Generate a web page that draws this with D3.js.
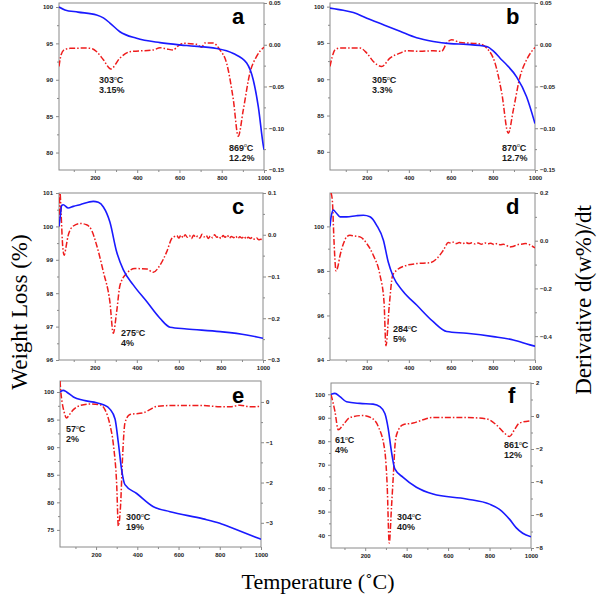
<!DOCTYPE html>
<html><head><meta charset="utf-8">
<script src="https://cdn.jsdelivr.net/npm/d3@7"></script>
<style>body{margin:0;background:#fff}svg{display:block}</style>
</head><body>
<svg id="c" width="600" height="596"></svg>
<script>
// ---------- DATA ----------
const xTicks = [200, 400, 600, 800, 1000];
const xMinor = [100, 300, 500, 700, 900];

// TG (weight %) curves: [temperature, weight]
const tgA = [[30,100],[58,99.6],[120,99.3],[208,98.9],[240,98.5],[271,97.8],[318,96.6],[397,95.7],[508,95.1],[634,94.7],[776,94.3],[855,93.6],[918,92.3],[949,90],[973,86.3],[997,80.9],[1000,80.4]];
const tgB = [[25,99.8],[88,99.5],[136,99.2],[200,98.4],[279,97.5],[358,96.6],[437,95.7],[516,95.2],[596,94.9],[675,94.8],[770,94.5],[805,93.8],[834,92.9],[865,92.0],[913,90.3],[960,87.6],[1000,83.9]];
const tgC = [[30,100.0],[36,100.3],[43,100.63],[50,100.65],[74,100.55],[98,100.6],[130,100.65],[193,100.75],[217,100.72],[241,100.58],[272,100.13],[304,99.24],[336,98.7],[383,98.25],[447,97.75],[510,97.25],[558,96.98],[637,96.93],[796,96.85],[922,96.75],[1000,96.65]];
const tgD = [[25,100.0],[30,100.4],[41,100.73],[55,100.6],[73,100.43],[104,100.43],[150,100.48],[184,100.5],[215,100.43],[247,100.05],[279,99.38],[302,98.4],[326,97.74],[374,97.07],[437,96.47],[516,95.72],[580,95.28],[675,95.2],[802,95.05],[897,94.9],[976,94.68],[1000,94.62]];
const tgE = [[25,100.0],[41,100.3],[57,100.0],[90,99.1],[138,98.5],[203,98.05],[235,97.7],[267,96.9],[292,95.1],[308,90.8],[324,85.9],[340,83.2],[397,81.6],[478,79.2],[559,78.3],[720,77.0],[800,76.2],[870,75.2],[1000,73.3]];
const tgF = [[35,100.0],[54,100.4],[78,99.0],[110,96.8],[174,96.1],[238,95.8],[271,94.7],[295,91.8],[311,85.4],[327,75.4],[343,68.2],[383,64.6],[447,60.4],[527,57.5],[688,55.4],[800,53.2],[848,51.0],[896,46.8],[928,43.2],[960,40.8],[1000,39.3]];

// DTG (derivative) curves: [temperature, derivative]
const dtgA = [[30,-0.026],[40,-0.012],[55,-0.006],[82,-0.0043],[161,-0.004],[190,-0.005],[208,-0.0083],[240,-0.018],[275,-0.029],[318,-0.016],[366,-0.0083],[407,-0.0075],[476,-0.0063],[508,-0.0036],[540,-0.005],[571,-0.0063],[590,-0.002],[618,0.0017],[681,0.0005],[705,-0.003],[720,0.002],[760,0.002],[791,-0.006],[823,-0.022],[855,-0.066],[878,-0.1095],[902,-0.078],[933,-0.034],[965,-0.014],[997,-0.0036],[1000,-0.003]];
const dtgB = [[25,-0.026],[35,-0.015],[49,-0.006],[72,-0.004],[168,-0.004],[200,-0.01],[231,-0.02],[271,-0.026],[310,-0.016],[358,-0.01],[390,-0.0072],[453,-0.0078],[516,-0.0072],[556,-0.0078],[580,0.002],[604,0.006],[643,0.0028],[738,0.001],[770,-0.004],[810,-0.022],[842,-0.058],[873,-0.106],[897,-0.078],[929,-0.038],[960,-0.018],[1000,-0.0032]];
const dtgC = [[30,0.02],[35,0.1],[40,0.05],[48,-0.03],[55,-0.049],[63,-0.03],[74,-0.001],[98,0.021],[130,0.027],[161,0.024],[185,0.011],[209,-0.025],[241,-0.089],[272,-0.161],[288,-0.236],[304,-0.185],[320,-0.121],[351,-0.093],[391,-0.081],[447,-0.082],[478,-0.090],[510,-0.073],[542,-0.041],[566,-0.009],[580,-0.004],
  [590,-0.002],[600,-0.008],[610,-0.001],[620,-0.007],[630,0.0],[640,-0.006],[650,-0.002],[660,-0.009],[670,-0.001],[680,-0.006],[690,-0.003],[700,-0.008],[710,0.001],[720,-0.005],[730,-0.002],[740,-0.009],[750,-0.003],[760,-0.007],[770,0.0],[780,-0.006],[790,-0.004],[800,-0.009],[810,-0.002],[820,-0.006],[830,-0.001],[840,-0.008],[850,-0.004],[860,-0.007],[870,-0.003],[880,-0.009],[890,-0.005],[900,-0.008],[910,-0.004],[920,-0.01],[930,-0.006],[940,-0.009],[950,-0.006],[960,-0.011],[970,-0.008],[980,-0.012],[990,-0.011],[1000,-0.013]];
const dtgD = [[30,0.2],[36,0.17],[44,0.0],[50,-0.1],[54,-0.127],[62,-0.11],[73,-0.061],[90,-0.01],[104,0.016],[120,0.023],[140,0.02],[168,0.016],[200,-0.012],[231,-0.061],[263,-0.145],[282,-0.257],[291,-0.44],[307,-0.27],[323,-0.145],[342,-0.124],[390,-0.103],[437,-0.096],[501,-0.092],[533,-0.075],[564,-0.04],[588,-0.008],
  [600,-0.01],[612,-0.006],[625,-0.012],[640,-0.008],[655,-0.013],[670,-0.007],[685,-0.012],[700,-0.009],[715,-0.014],[730,-0.01],[745,-0.015],[760,-0.009],[775,-0.013],[790,-0.011],[805,-0.016],[820,-0.012],[835,-0.017],[850,-0.015],[865,-0.02],[880,-0.026],[895,-0.024],[910,-0.019],[925,-0.015],[940,-0.014],[955,-0.012],[970,-0.015],[985,-0.022],[1000,-0.03]];
const dtgE = [[25,0.52],[30,0.2],[35,0.0],[45,-0.25],[57,-0.40],[70,-0.32],[90,-0.19],[122,-0.09],[170,-0.05],[219,-0.07],[243,-0.19],[267,-0.56],[284,-1.06],[300,-2.05],[308,-3.08],[319,-2.55],[329,-1.31],[340,-0.52],[364,-0.31],[429,-0.27],[461,-0.19],[494,-0.11],[559,-0.09],[720,-0.09],[801,-0.12],[850,-0.12],[898,-0.08],[946,-0.12],[1000,-0.11]];
const dtgF = [[35,1.3],[45,0.8],[54,0.28],[70,-0.84],[94,-0.53],[126,-0.09],[190,0.03],[231,-0.12],[263,-0.64],[295,-2.15],[306,-4.2],[316,-7.7],[327,-5.5],[335,-3.77],[345,-1.6],[355,-1.0],[383,-0.53],[431,-0.43],[479,-0.23],[527,-0.09],[688,-0.09],[784,-0.17],[832,-0.53],[872,-1.04],[896,-1.24],[920,-0.84],[944,-0.43],[1000,-0.29]];

// Tick labels
const leftTicksA = [80,85,90,95,100], rightTicksA = [0.05,0,-0.05,-0.10,-0.15];
const leftTicksB = [80,85,90,95,100], rightTicksB = [0.05,0,-0.05,-0.10,-0.15];
const leftTicksC = [96,97,98,99,100,101], rightTicksC = [0.1,0,-0.1,-0.2,-0.3];
const leftTicksD = [94,96,98,100], rightTicksD = [0.2,0,-0.2,-0.4];
const leftTicksE = [75,80,85,90,95,100], rightTicksE = [0,-1,-2,-3];
const leftTicksF = [40,50,60,70,80,90,100], rightTicksF = [2,0,-2,-4,-6,-8];

// Peak annotations
const peakTempsA = ["303","869"], peakLossA = ["3.15%","12.2%"];
const peakTempsB = ["305","870"], peakLossB = ["3.3%","12.7%"];
const peakTempsC = ["275"], peakLossC = ["4%"];
const peakTempsD = ["284"], peakLossD = ["5%"];
const peakTempsE = ["57","300"], peakLossE = ["2%","19%"];
const peakTempsF = ["61","304","861"], peakLossF = ["4%","40%","12%"];

const panelLetters = ["a","b","c","d","e","f"];
const xTitle = "Temperature (˚C)";
const yLeftTitle = "Weight Loss (%)";
const yRightTitle = "Derivative d(w%)/dt";

// ---------- LAYOUT ----------
const panels = [
  {tg:tgA, dtg:dtgA, L:59, R:264, T:3, B:170, xd:[30,1000], yl:[77.6,100.55], yr:[-0.15,0.05], lt:leftTicksA, rt:rightTicksA, rf:d3.format(".2f"),
   temps:peakTempsA, loss:peakLossA, pos:[[99,83],[229,150.5]], letter:[232,24]},
  {tg:tgB, dtg:dtgB, L:330, R:535, T:3, B:170, xd:[25,1000], yl:[77.5,100.5], yr:[-0.15,0.05], lt:leftTicksB, rt:rightTicksB, rf:d3.format(".2f"),
   temps:peakTempsB, loss:peakLossB, pos:[[372,83],[502,150.5]], letter:[506,24]},
  {tg:tgC, dtg:dtgC, L:59, R:263, T:193, B:360, xd:[30,1000], yl:[96,101], yr:[-0.3,0.1], lt:leftTicksC, rt:rightTicksC, rf:d3.format(".1f"),
   temps:peakTempsC, loss:peakLossC, pos:[[121,336]], letter:[232,214]},
  {tg:tgD, dtg:dtgD, L:330, R:535, T:193, B:360, xd:[25,1000], yl:[94,101.5], yr:[-0.5,0.2], lt:leftTicksD, rt:rightTicksD, rf:d3.format(".1f"),
   temps:peakTempsD, loss:peakLossD, pos:[[393,332]], letter:[506,214]},
  {tg:tgE, dtg:dtgE, L:60, R:261, T:381, B:547, xd:[25,1000], yl:[71.9,102], yr:[-3.6,0.52], lt:leftTicksE, rt:rightTicksE, rf:d3.format("d"),
   temps:peakTempsE, loss:peakLossE, pos:[[66,432],[126,520]], letter:[232,403]},
  {tg:tgF, dtg:dtgF, L:331, R:531, T:383, B:548, xd:[35,1000], yl:[34.5,104.8], yr:[-8,2], lt:leftTicksF, rt:rightTicksF, rf:d3.format("d"),
   temps:peakTempsF, loss:peakLossF, pos:[[335,443],[397,520],[504,448]], letter:[508,403]}
];

const svg = d3.select("#c");
const axisColor = "#8a8a8a";
const tickFont = "Liberation Sans, Arial, sans-serif";

function mid(arr){ const s=[...arr].sort((a,b)=>a-b); const out=[]; for(let i=0;i<s.length-1;i++) out.push((s[i]+s[i+1])/2); return out; }

panels.forEach((p,i)=>{
  const x = d3.scaleLinear().domain(p.xd).range([p.L,p.R]);
  const yl = d3.scaleLinear().domain(p.yl).range([p.B,p.T]);
  const yr = d3.scaleLinear().domain(p.yr).range([p.B,p.T]);
  const g = svg.append("g");
  const cid = "clip"+i;
  svg.append("clipPath").attr("id",cid).append("rect").attr("x",p.L).attr("y",p.T).attr("width",p.R-p.L).attr("height",p.B-p.T);

  g.append("rect").attr("x",p.L).attr("y",p.T).attr("width",p.R-p.L).attr("height",p.B-p.T)
    .attr("fill","none").attr("stroke",axisColor).attr("stroke-width",1);

  const styleAxis = sel => { sel.select(".domain").remove(); sel.selectAll("line").attr("stroke",axisColor);
     sel.selectAll("text").attr("font-family",tickFont).attr("font-size",6).attr("font-weight","bold").attr("fill","#222"); };
  g.append("g").attr("transform",`translate(0,${p.B})`)
    .call(d3.axisBottom(x).tickValues(xTicks).tickSize(3).tickPadding(3).tickFormat(d3.format("d"))).call(styleAxis);
  g.append("g").attr("transform",`translate(0,${p.B})`)
    .call(d3.axisBottom(x).tickValues(xMinor).tickSize(2).tickFormat("")).call(styleAxis);
  g.append("g").attr("transform",`translate(${p.L},0)`)
    .call(d3.axisLeft(yl).tickValues(p.lt).tickSize(3).tickPadding(3).tickFormat(d3.format("d"))).call(styleAxis);
  g.append("g").attr("transform",`translate(${p.L},0)`)
    .call(d3.axisLeft(yl).tickValues(mid(p.lt)).tickSize(2).tickFormat("")).call(styleAxis);
  g.append("g").attr("transform",`translate(${p.R},0)`)
    .call(d3.axisRight(yr).tickValues(p.rt).tickSize(3).tickPadding(2).tickFormat(p.rf)).call(styleAxis);
  g.append("g").attr("transform",`translate(${p.R},0)`)
    .call(d3.axisRight(yr).tickValues(mid(p.rt)).tickSize(2).tickFormat("")).call(styleAxis);

  const curve = d3.curveMonotoneX;
  g.append("path").datum(p.dtg).attr("clip-path",`url(#${cid})`)
    .attr("d", d3.line().x(d=>x(d[0])).y(d=>yr(d[1])).curve(curve))
    .attr("fill","none").attr("stroke","#ee1c1c").attr("stroke-width",1.5).attr("stroke-dasharray","6,2,1.5,2");
  g.append("path").datum(p.tg).attr("clip-path",`url(#${cid})`)
    .attr("d", d3.line().x(d=>x(d[0])).y(d=>yl(d[1])).curve(curve))
    .attr("fill","none").attr("stroke","#1a1aff").attr("stroke-width",1.6);

  p.temps.forEach((t,k)=>{
    const [ax,ay] = p.pos[k];
    const t1 = g.append("text").attr("x",ax).attr("y",ay).attr("font-family",tickFont).attr("font-size",9)
      .attr("font-weight","bold").attr("fill","#1a1a1a");
    t1.append("tspan").text(t);
    t1.append("tspan").attr("font-size",5).attr("font-weight","normal").attr("dy",-3.2).text("o");
    t1.append("tspan").attr("dy",3.2).text("C");
    g.append("text").attr("x",ax).attr("y",ay+10).attr("font-family",tickFont).attr("font-size",9)
      .attr("font-weight","bold").attr("fill","#1a1a1a").text(p.loss[k]);
  });
  g.append("text").attr("x",p.letter[0]).attr("y",p.letter[1]).attr("font-family",tickFont).attr("font-size",22)
    .attr("font-weight","bold").attr("fill","#000").text(panelLetters[i]);
});

const serif = "Liberation Serif, Times New Roman, serif";
svg.append("text").attr("transform","translate(27,312) rotate(-90)").attr("text-anchor","middle")
  .attr("font-family",serif).attr("font-size",23).text(yLeftTitle);
svg.append("text").attr("transform","translate(591,300) rotate(-90)").attr("text-anchor","middle")
  .attr("font-family",serif).attr("font-size",23).text(yRightTitle);
svg.append("text").attr("x",318).attr("y",589).attr("text-anchor","middle")
  .attr("font-family",serif).attr("font-size",22).text(xTitle);
</script>
</body></html>
